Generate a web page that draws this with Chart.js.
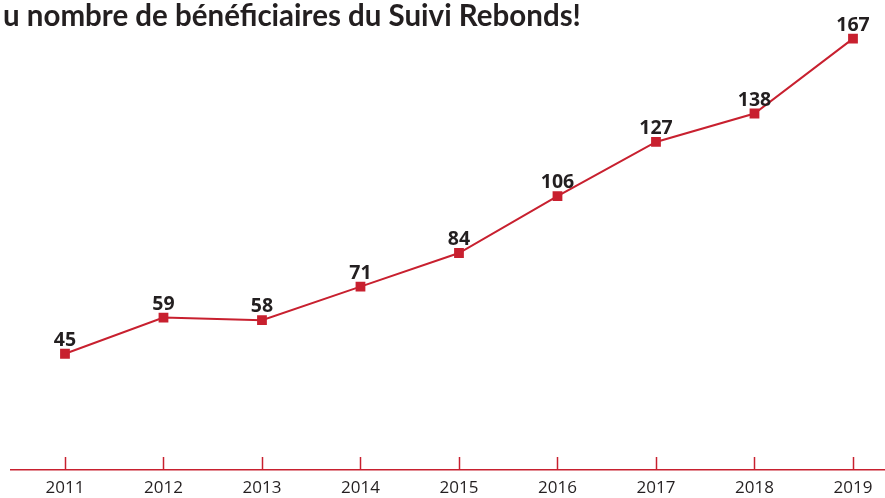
<!DOCTYPE html>
<html>
<head>
<meta charset="utf-8">
<script src="https://cdn.jsdelivr.net/npm/chart.js@4/dist/chart.umd.min.js"></script>
<style>
  html, body { margin: 0; padding: 0; background: #fff; overflow: hidden; }
  #wrap { position: relative; width: 885px; height: 498px; }
</style>
</head>
<body>
<div id="wrap"><canvas id="graf"></canvas></div>
<script>
// =================== Données ===================
const TITRE = "u nombre de bénéficiaires du Suivi Rebonds!";
const annees = [2011, 2012, 2013, 2014, 2015, 2016, 2017, 2018, 2019];
const beneficiaires = [45, 59, 58, 71, 84, 106, 127, 138, 167];

const ROUGE = "#c8202f";
const TEXTE = "#231f20";

// =================== Plugins ===================
// petites graduations au-dessus de l'axe
const graduations = {
  id: "graduations",
  afterDraw(chart) {
    const { ctx, scales: { x }, chartArea } = chart;
    ctx.save();
    ctx.strokeStyle = ROUGE;
    ctx.lineWidth = 1.5;
    annees.forEach(a => {
      const px = Math.round(x.getPixelForValue(a)) + 0.5;
      ctx.beginPath();
      ctx.moveTo(px, chartArea.bottom);
      ctx.lineTo(px, chartArea.bottom - 13);
      ctx.stroke();
    });
    ctx.restore();
  }
};

// valeurs au-dessus des points + titre
const etiquettes = {
  id: "etiquettes",
  afterDatasetsDraw(chart) {
    const { ctx } = chart;
    const meta = chart.getDatasetMeta(0);
    ctx.save();
    ctx.fillStyle = TEXTE;
    ctx.font = "bold 19.5px 'Open Sans'";
    ctx.textAlign = "center";
    ctx.textBaseline = "alphabetic";
    meta.data.forEach((pt, i) => {
      ctx.fillText(String(beneficiaires[i]), pt.x, pt.y - 8);
    });
    ctx.font = "bold 29.5px Lato";
    ctx.textAlign = "left";
    ctx.fillText(TITRE, 3, 26, 578);
    ctx.restore();
  }
};

// =================== Graphique ===================
const ctx = document.getElementById("graf").getContext("2d");

new Chart(ctx, {
  type: "line",
  data: {
    datasets: [{
      data: annees.map((a, i) => ({ x: a, y: beneficiaires[i] })),
      borderColor: ROUGE,
      backgroundColor: ROUGE,
      borderWidth: 2,
      pointStyle: "rect",
      pointRadius: 5.5,
      pointHoverRadius: 5.5,
      tension: 0,
      clip: false
    }]
  },
  options: {
    responsive: true,
    maintainAspectRatio: false,
    animation: false,
    layout: { autoPadding: false, padding: { left: 11, right: 0, top: 5, bottom: 0 } },
    plugins: {
      legend: { display: false },
      tooltip: { enabled: false }
    },
    scales: {
      x: {
        type: "linear",
        min: 2010.452,
        max: 2019.325,
        grid: { display: false, drawTicks: false },
        border: { display: true, color: ROUGE, width: 1.5 },
        afterFit: (s) => { s.height = 28; s.paddingLeft = 0; s.paddingRight = 0; },
        ticks: {
          stepSize: 1,
          includeBounds: false,
          autoSkip: false,
          maxRotation: 0,
          padding: 8,
          color: TEXTE,
          font: { family: "'Open Sans'", size: 17 },
          callback: (v) => String(v)
        }
      },
      y: {
        display: false,
        min: 0,
        max: 180
      }
    }
  },
  plugins: [graduations, etiquettes]
});
</script>
</body>
</html>
